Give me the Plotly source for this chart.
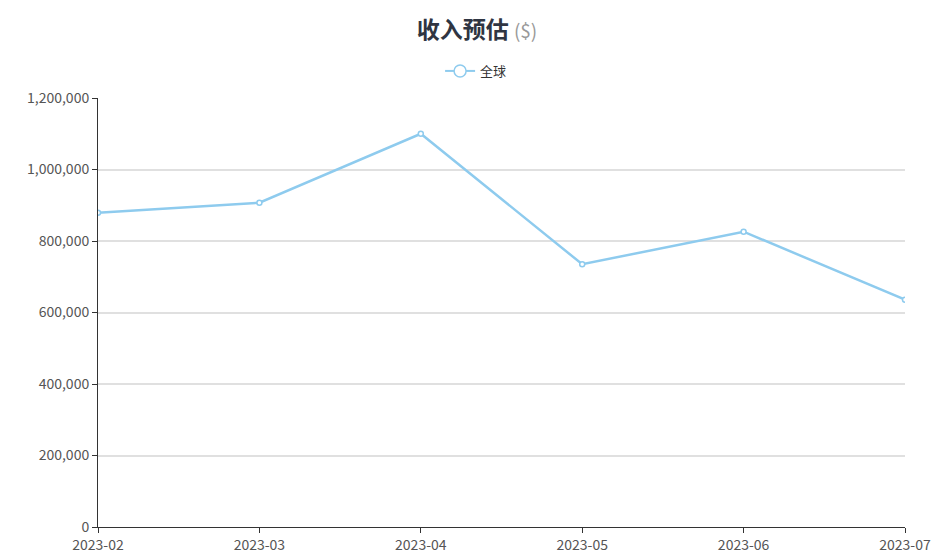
"""收入预估折线图（全球，按月）。"""
import plotly.graph_objects as go

# 数据
months = ["2023-02", "2023-03", "2023-04", "2023-05", "2023-06", "2023-07"]
revenue_global = [879000, 907000, 1100000, 735000, 826000, 636000]
series_name = "全球"
y_ticks = [0, 200000, 400000, 600000, 800000, 1000000, 1200000]

_LINE = "#8ecbee"
_TEXT = "#333333"
_TICK = "#555555"
_AXIS = "#333333"
_GRID = "#e0e0e0"
_FONT = "Noto Sans CJK SC, Noto Sans, sans-serif"

fig = go.Figure()
# 主折线（图例用下面的占位 trace，圆圈更大）
fig.add_trace(
    go.Scatter(
        x=months,
        y=revenue_global,
        mode="lines+markers",
        name=series_name,
        showlegend=False,
        line=dict(color=_LINE, width=2.5),
        marker=dict(size=5, color="white", line=dict(color=_LINE, width=1.5)),
    )
)
fig.add_trace(
    go.Scatter(
        x=[None],
        y=[None],
        mode="lines+markers",
        name=series_name,
        line=dict(color=_LINE, width=2),
        marker=dict(size=12, color="white", line=dict(color=_LINE, width=1.5)),
    )
)

# 页面 body 自带 8px 边距，这里整体补偿
fig.update_layout(
    width=938,
    height=552,
    margin=dict(l=90, r=41, t=90, b=33, autoexpand=False),
    paper_bgcolor="white",
    plot_bgcolor="white",
    font=dict(family=_FONT, color=_TEXT, size=13),
    title=dict(
        text="<b>收入预估</b> <span style='color:#999999;font-size:19px;font-weight:normal'>($)</span>",
        x=0.5,
        xanchor="center",
        y=1 - 22 / 552,
        yanchor="middle",
        font=dict(size=23, color="#2f3542"),
    ),
    showlegend=True,
    legend=dict(
        orientation="h",
        x=0.4685,
        xanchor="center",
        y=1.063,
        yanchor="middle",
        font=dict(size=13, color=_TEXT),
    ),
    xaxis=dict(
        type="category",
        range=[0, len(months) - 1],
        showgrid=False,
        showline=True,
        linecolor=_AXIS,
        linewidth=1,
        ticks="outside",
        ticklen=5,
        tickcolor=_AXIS,
        tickfont=dict(size=14, color=_TICK),
        zeroline=False,
    ),
    yaxis=dict(
        range=[0, 1200000],
        tickvals=y_ticks,
        tickformat=",",
        showgrid=True,
        gridcolor=_GRID,
        gridwidth=1.5,
        showline=True,
        linecolor=_AXIS,
        linewidth=1,
        ticks="outside",
        ticklen=5,
        tickcolor=_AXIS,
        tickfont=dict(size=14, color=_TICK),
        zeroline=False,
    ),
)

fig.write_html("out.html")
